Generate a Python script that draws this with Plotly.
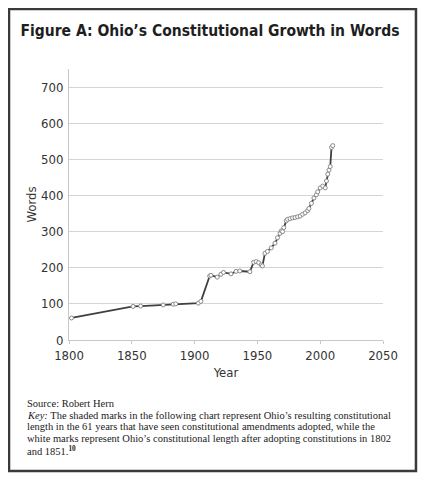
import plotly.graph_objects as go

# Ohio constitution length by year
years = [1802, 1851, 1857, 1875, 1883, 1885, 1903, 1905, 1912, 1913,
         1918, 1921, 1923, 1929, 1933, 1936, 1944, 1947, 1949, 1951,
         1953, 1954, 1956, 1958, 1961, 1964, 1966, 1968, 1969, 1970,
         1971, 1973, 1974, 1976, 1978, 1980, 1982, 1984, 1986, 1988,
         1990, 1991, 1993, 1995, 1997, 1998, 2000, 2002, 2004, 2005,
         2006, 2007, 2008, 2009, 2010]
words = [61, 93, 94, 97, 99, 100, 102, 107, 177, 179,
         174, 182, 187, 183, 190, 191, 189, 215, 217, 214,
         208, 205, 240, 245, 255, 268, 283, 295, 302, 300,
         311, 330, 334, 336, 338, 339, 341, 343, 348, 352,
         358, 364, 378, 393, 402, 410, 421, 426, 421, 440,
         459, 470, 480, 533, 538]

x_ticks = [1800, 1850, 1900, 1950, 2000, 2050]
y_ticks = [0, 100, 200, 300, 400, 500, 600, 700]

title_text = "Figure A: Ohio\u2019s Constitutional Growth in Words"
note_lines = ["Source: Robert Hern",
              "<i>Key:</i> The shaded marks in the following chart represent Ohio\u2019s resulting constitutional",
              "length in the 61 years that have seen constitutional amendments adopted, while the",
              "white marks represent Ohio\u2019s constitutional length after adopting constitutions in 1802",
              "and 1851.<sup><b>10</b></sup>"]

narrow = "DejaVu Sans Condensed, Roboto, sans-serif"

fig = go.Figure()

fig.add_trace(go.Scatter(x=years, y=words,
                         mode='lines+markers',
                         line=dict(color='#3f3f3f', width=1.8),
                         marker=dict(symbol='circle', size=4, color='white',
                                     line=dict(color='#8a8a8a', width=1)),
                         showlegend=False))

# page body adds an 8px margin, so the figure is 8px smaller than the window
fig.update_layout(
    width=418, height=472,
    margin=dict(l=61, r=43, t=61, b=140),
    paper_bgcolor='white', plot_bgcolor='white',
    title=dict(text='<b>' + title_text + '</b>', x=0.449, xref='paper',
               xanchor='center', y=0.953, yanchor='middle',
               font=dict(family=narrow, size=15.5, color='#1e1e1e')),
    xaxis=dict(range=[1800, 2050], tickvals=x_ticks, showgrid=False,
               automargin=False,
               showline=True, linecolor='#c8c8c8', linewidth=1,
               ticks='outside', ticklen=3, tickcolor='#c8c8c8',
               tickfont=dict(family=narrow, size=13, color='#333'),
               title=dict(text='Year', standoff=6,
                          font=dict(family=narrow, size=13, color='#333')),
               zeroline=False),
    yaxis=dict(range=[0, 750], tickvals=y_ticks, showgrid=True,
               automargin=False,
               gridcolor='#d4d4d4', gridwidth=1,
               showline=True, linecolor='#c8c8c8', linewidth=1,
               ticks='', ticklabelstandoff=2,
               tickfont=dict(family=narrow, size=13, color='#333'),
               title=dict(text='Words', standoff=1,
                          font=dict(family=narrow, size=13, color='#333')),
               zeroline=False),
)

# caption below the chart, one line per annotation for tight spacing
for i, line in enumerate(note_lines):
    fig.add_annotation(text=line, xref='paper', yref='paper',
                       x=-0.14, y=-0.207 - i * 0.0425,
                       xanchor='left', yanchor='top',
                       align='left', showarrow=False,
                       font=dict(family='Liberation Serif, Times New Roman, serif',
                                 size=10.5, color='#222'))

# page frame around the figure
fig.add_shape(type='rect', xref='paper', yref='paper',
              x0=-0.191, x1=1.105, y0=-0.483, y1=1.221,
              line=dict(color='#3a3a3a', width=2.5))

fig.write_html("out.html")
